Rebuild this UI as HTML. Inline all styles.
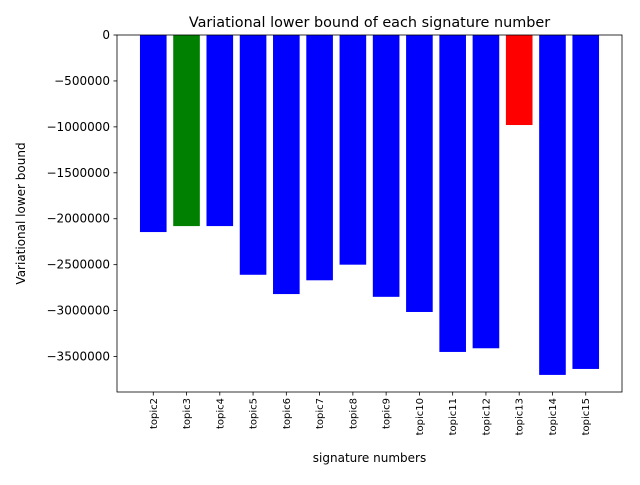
<!DOCTYPE html>
<html><head><meta charset="utf-8"><style>
body{margin:0;background:#fff;}
svg text{font-family:"DejaVu Sans","Liberation Sans",sans-serif;}
</style></head><body>
<svg id="chart" width="640" height="480" xmlns="http://www.w3.org/2000/svg"></svg>
<script>
const categories=["topic2","topic3","topic4","topic5","topic6","topic7","topic8","topic9","topic10","topic11","topic12","topic13","topic14","topic15"];
const values=[-2145000,-2080000,-2080000,-2610000,-2820000,-2670000,-2500000,-2850000,-3015000,-3450000,-3410000,-980000,-3700000,-3635000];
const colors=["blue","green","blue","blue","blue","blue","blue","blue","blue","blue","blue","red","blue","blue"];
const yTicks=[0,-500000,-1000000,-1500000,-2000000,-2500000,-3000000,-3500000];
const NS="http://www.w3.org/2000/svg";
const svg=document.getElementById('chart');
const L=117,R=622,T=35,B=392;
const xmin=-1.09,xmax=categories.length-1+1.09;
const ymax=0,ymin=-3886000;
const xs=v=>L+(v-xmin)/(xmax-xmin)*(R-L);
const ys=v=>T+(ymax-v)/(ymax-ymin)*(B-T);
function mk(tag,attrs,text){const e=document.createElementNS(NS,tag);for(const k in attrs)e.setAttribute(k,attrs[k]);if(text!==undefined)e.textContent=text;svg.appendChild(e);return e;}
categories.forEach((c,i)=>{
  const x0=xs(i-0.4),x1=xs(i+0.4);
  const y0=ys(0),y1=ys(values[i]);
  const r=mk('rect',{x:x0,y:Math.min(y0,y1),width:x1-x0,height:Math.abs(y1-y0),fill:colors[i]});
  
  
  const tk=mk('line',{x1:xs(i),x2:xs(i),y1:B,y2:B+3.5,stroke:'#000','stroke-width':0.8});
  
  
  const t=mk('text',{x:0,y:0,'font-size':10,'text-anchor':'end',transform:`translate(${xs(i)+3.5},${B+6}) rotate(-90)`},c);
  
  
});
yTicks.forEach(v=>{
  const y=ys(v);
  const tk=mk('line',{x1:L-3.5,x2:L,y1:y,y2:y,stroke:'#000','stroke-width':0.8});
  
  
  const t=mk('text',{x:L-7,y:y+4,'font-size':12,'text-anchor':'end'},v===0?'0':'\u2212'+Math.abs(v));
  
  
});
const fr=mk('rect',{x:L,y:T,width:R-L,height:B-T,fill:'none',stroke:'#000','stroke-width':0.8});


const tt=mk('text',{x:(L+R)/2,y:27,'font-size':14.4,'text-anchor':'middle'},'Variational lower bound of each signature number');


const xt=mk('text',{x:(L+R)/2,y:462,'font-size':12,'text-anchor':'middle'},'signature numbers');


const yt=mk('text',{x:0,y:0,'font-size':12,'text-anchor':'middle',transform:`translate(25,${(T+B)/2}) rotate(-90)`},'Variational lower bound');


</script>
</body></html>
